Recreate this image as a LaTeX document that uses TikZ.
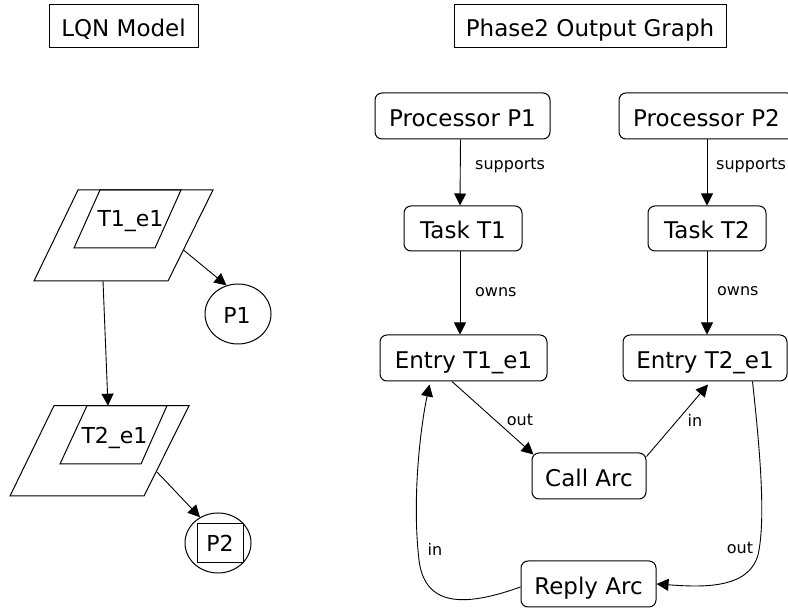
\documentclass[tikz,border=0pt]{standalone}
\usepackage{fontspec}
\setmainfont{DejaVu Sans}
\usetikzlibrary{arrows.meta,shapes.geometric}
\begin{document}
\begin{tikzpicture}[x=1pt,y=1pt,
  every node/.style={font=\fontsize{23}{27}\selectfont, inner sep=0pt},
  box/.style={draw, line width=1pt, rounded corners=7pt, minimum height=46pt, text height=24pt, text depth=3pt},
  titlebox/.style={draw, line width=1pt, minimum height=43pt, text height=24pt, text depth=3pt},
  lbl/.style={font=\fontsize{16}{19}\selectfont},
  sml/.style={font=\fontsize{22}{26}\selectfont, anchor=base},
  arr/.style={-{Triangle[length=12pt,width=12pt]}, line width=0.9pt},
  shp/.style={line width=1pt}]
\useasboundingbox (0,0) rectangle (788,-609);

% titles
\node[titlebox, minimum width=149pt] (lqn) at (123.5,-26.5) {LQN Model};
\node[titlebox, minimum width=272pt] (ph2) at (590,-26.5) {Phase2 Output Graph};

% ---------- LQN model (left) ----------
\draw[shp] (78,-190) -- (213,-190) -- (168,-281) -- (34,-281) -- cycle;
\draw[shp] (100,-190) -- (181,-190) -- (155,-248) -- (74,-248) -- cycle;
\node[sml] (t1e) at (130.5,-226.7) {T1\_e1};

\draw[shp] (54,-405.7) -- (189,-405.7) -- (144,-496) -- (10,-496) -- cycle;
\draw[shp] (87,-405.7) -- (167,-405.7) -- (141,-464) -- (60,-464) -- cycle;
\node[sml] (t2e) at (114.5,-443.3) {T2\_e1};

\node[ellipse, draw, shp, minimum width=66pt, minimum height=60pt] (p1) at (238,-314) {};
\node[sml] (p1t) at (237,-324) {P1};

\node[ellipse, draw, shp, minimum width=66pt, minimum height=60pt] (p2) at (218,-543) {};
\node[draw, shp, minimum width=46pt, minimum height=39pt] (p2b) at (220,-543.5) {};
\node[sml] (p2t) at (220,-551.7) {P2};

\coordinate (t1a) at (183.5,-250);
\coordinate (t1b) at (103,-281);
\coordinate (t2top) at (108,-405.7);
\coordinate (t2a) at (157,-472);

\draw[arr] (t1a) -- (p1.112);
\draw[arr] (t1b) -- (t2top);
\draw[arr] (t2a) -- (p2.125);

% ---------- Phase2 output graph (right) ----------
\node[box, minimum width=175pt] (pp1) at (462.5,-116) {Processor P1};
\node[box, minimum width=175pt] (pp2) at (706.5,-116) {Processor P2};
\node[box, minimum width=118pt, minimum height=45pt] (tt1) at (463,-228.5) {Task T1};
\node[box, minimum width=118pt, minimum height=45pt] (tt2) at (707,-228.5) {Task T2};
\node[box, minimum width=167pt] (en1) at (463.5,-358) {Entry T1\_e1};
\node[box, minimum width=164pt] (en2) at (705,-358) {Entry T2\_e1};
\node[box, minimum width=114pt] (ca) at (589,-476) {Call Arc};
\node[box, minimum width=135pt] (ra) at (588.5,-584) {Reply Arc};

\draw[arr] ([xshift=-2pt]pp1.south) -- ([xshift=-3pt]tt1.north);
\draw[arr] (pp2.south -| tt2) -- (tt2.north);
\draw[arr] ([xshift=-3pt]tt1.south) -- ([xshift=-3.5pt]en1.north);
\draw[arr] (tt2.south) -- (tt2.south |- en2.north);

\draw[arr] ([xshift=-11.5pt]en1.south) -- ([shift={(2pt,-2pt)}]ca.north west);
\draw[arr] ([yshift=-4pt]ca.north east) -- ([shift={(3pt,-3pt)}]en2.south);

\draw[arr] ([xshift=-35pt]en2.south east)
   .. controls (760,-450) and (766,-520) .. (758,-555)
   .. controls (748,-590) and (700,-587) .. (ra.east);
\draw[arr] ([yshift=-3pt]ra.west)
   .. controls (470,-605) and (425,-610) .. (419,-560)
   .. controls (412,-500) and (420,-430) .. ([shift={(50pt,-3pt)}]en1.south west);

\node[lbl, anchor=west] (lsup1) at (475,-166) {supports};
\node[lbl, anchor=west] (lsup2) at (716,-166) {supports};
\node[lbl, anchor=west] (lown1) at (475,-292) {owns};
\node[lbl, anchor=west] (lown2) at (717,-291) {owns};
\node[lbl] (lout1) at (520,-420) {out};
\node[lbl] (lin1) at (695,-420) {in};
\node[lbl] (lin2) at (435,-549) {in};
\node[lbl] (lout2) at (740,-548) {out};
\end{tikzpicture}
\end{document}
